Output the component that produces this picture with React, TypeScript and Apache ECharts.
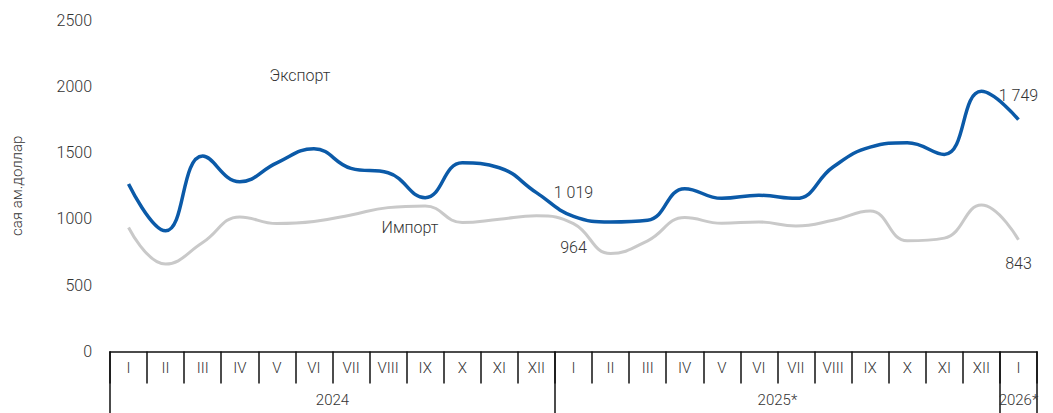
import React, { useEffect, useRef } from "react";
import * as echarts from "echarts";

const months = ["I","II","III","IV","V","VI","VII","VIII","IX","X","XI","XII","I","II","III","IV","V","VI","VII","VIII","IX","X","XI","XII","I"];
const years = ["2024", "2025*", "2026*"];
const yearStarts = [0, 12, 24, 25];
const exportVals = [1263, 910, 1474, 1280, 1423, 1529, 1381, 1348, 1160, 1423, 1386, 1198, 1019, 977, 990, 1228, 1155, 1178, 1155, 1391, 1541, 1574, 1486, 1962, 1749];
const importVals = [935, 659, 822, 1015, 965, 980, 1030, 1085, 1098, 972, 998, 1023, 964, 739, 835, 1010, 967, 977, 947, 990, 1060, 835, 855, 1105, 843];
const labelledIdx = [12, 24];
const yTicks = { min: 0, max: 2500, interval: 500 };

const fmt = (v: number) => String(Math.round(v)).replace(/\B(?=(\d{3})+(?!\d))/g, " ");
const FONT = "Roboto";
const W = 300;
const TXT = "#333";

export default function App() {
  const ref = useRef<HTMLDivElement>(null);
  useEffect(() => {
    const chart = echarts.init(ref.current!, null, { renderer: "svg" });
    const mk = (vals: number[], pos: string) =>
      vals.map((v, i) =>
        labelledIdx.includes(i)
          ? { value: v, label: { show: true, position: pos, distance: 16, formatter: () => fmt(v), fontFamily: FONT, fontWeight: W, fontSize: 16, color: TXT } }
          : { value: v, label: { show: false } }
      );
    const yearCenters = yearStarts.slice(0, -1).map((s, i) => (s + yearStarts[i + 1]) / 2);
    chart.setOption({
      animation: false,
      grid: { left: 110, right: 16, top: 20, bottom: 61.5 },
      xAxis: [
        {
          type: "category",
          data: months,
          position: "bottom",
          boundaryGap: true,
          axisLine: { show: true, lineStyle: { color: "#111", width: 1.5 } },
          axisTick: { show: true, length: 32, lineStyle: { color: "#111", width: 1.5 }, interval: 0 },
          axisLabel: { interval: 0, margin: 9, fontFamily: FONT, fontWeight: W, fontSize: 15, color: TXT },
          splitLine: { show: false },
        },
        {
          type: "value",
          min: 0,
          max: months.length,
          position: "bottom",
          axisLine: { show: false },
          axisTick: { show: true, length: 62, customValues: yearStarts, lineStyle: { color: "#111", width: 1.5 } },
          axisLabel: {
            show: true,
            customValues: yearCenters,
            margin: 41,
            formatter: (v: number) => {
              const i = yearCenters.findIndex((c) => Math.abs(c - v) < 1e-6);
              return i >= 0 ? years[i] : "";
            },
            fontFamily: FONT,
            fontWeight: W,
            fontSize: 15,
            color: TXT,
          },
          splitLine: { show: false },
        },
      ],
      yAxis: {
        type: "value",
        min: yTicks.min,
        max: yTicks.max,
        interval: yTicks.interval,
        name: "сая ам.доллар",
        nameLocation: "middle",
        nameGap: 86,
        nameRotate: 90,
        nameTextStyle: { fontFamily: FONT, fontWeight: W, fontSize: 15, color: TXT },
        axisLine: { show: false },
        axisTick: { show: false },
        splitLine: { show: false },
        axisLabel: { margin: 18, fontFamily: FONT, fontWeight: W, fontSize: 16, color: TXT, formatter: (v: number) => String(v) },
      },
      series: [
        {
          name: "Экспорт",
          type: "line",
          smooth: 0.45,
          symbol: "circle",
          symbolSize: 0,
          showSymbol: true,
          data: mk(exportVals, "top"),
          lineStyle: { color: "#0B5AA8", width: 3.5 },
          itemStyle: { color: "#0B5AA8" },
          z: 3,
        },
        {
          name: "Импорт",
          type: "line",
          smooth: 0.45,
          symbol: "circle",
          symbolSize: 0,
          showSymbol: true,
          data: mk(importVals, "bottom"),
          lineStyle: { color: "#C9C9C9", width: 3 },
          itemStyle: { color: "#C9C9C9" },
          z: 2,
        },
      ],
      graphic: [
        { type: "text", x: 300, y: 75, style: { text: "Экспорт", align: "center", verticalAlign: "middle", font: `${W} 16px ${FONT}`, fill: TXT } },
        { type: "text", x: 410, y: 227, style: { text: "Импорт", align: "center", verticalAlign: "middle", font: `${W} 16px ${FONT}`, fill: TXT } },
      ],
    });
    return () => chart.dispose();
  }, []);
  return <div ref={ref} style={{ position: "absolute", left: 0, top: 0, width: 1053, height: 413 }} />;
}
